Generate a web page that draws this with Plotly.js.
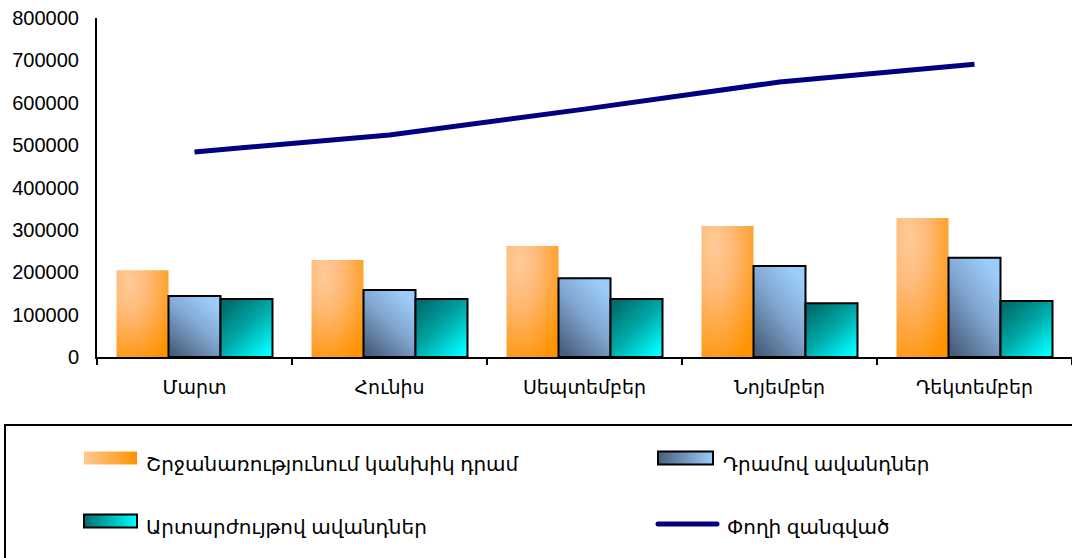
<!DOCTYPE html>
<html><head><meta charset="utf-8">
<script src="https://cdn.plot.ly/plotly-3.0.1.min.js"></script>
<style>html,body{margin:0;padding:0;background:#fff}#chart{width:1072px;height:558px}</style>
</head><body><div id="chart"></div>
<script>
const months = ["Մարտ","Հունիս","Սեպտեմբեր","Նոյեմբեր","Դեկտեմբեր"];
const cashValues = [205000, 229000, 262000, 309000, 328000];
const dramDeposits = [144000, 158000, 186000, 215000, 234000];
const fxDeposits = [137000, 137000, 137000, 127000, 132000];
const moneySupply = [484000, 524000, 585000, 649000, 691000];
const seriesNames = ["Շրջանառությունում կանխիկ դրամ","Դրամով ավանդներ","Արտարժույթով ավանդներ","Փողի զանգված"];
const yTicks = [0,100000,200000,300000,400000,500000,600000,700000,800000];

const FONT = "Liberation Sans, Arial, DejaVu Sans, sans-serif";
const data = [
  {type:'bar', x:months, y:cashValues, name:seriesNames[0], marker:{color:'#FFA64D', line:{width:0}}, legend:'legend', showlegend:true},
  {type:'bar', x:months, y:dramDeposits, name:seriesNames[1], marker:{color:'#7397C0', line:{width:2,color:'#000'}}, legend:'legend2', showlegend:true},
  {type:'bar', x:months, y:fxDeposits, name:seriesNames[2], marker:{color:'#00AAAA', line:{width:2,color:'#000'}}, legend:'legend3', showlegend:true},
  {type:'scatter', mode:'lines', x:months, y:moneySupply, name:seriesNames[3], line:{color:'#000080', width:5}, legend:'legend4', showlegend:true}
];
const lf = {family:FONT, size:20, color:'#000'};
function lg(x,y){return {x:x,y:y,xanchor:'left',yanchor:'middle',font:lf,bgcolor:'rgba(0,0,0,0)',borderwidth:0,visible:true};}
const py = p => (357-p)/339, px = p => (p-97)/975;
const layout = {
  width:1072, height:558,
  margin:{l:97, r:0, t:18, b:201},
  paper_bgcolor:'#fff', plot_bgcolor:'#fff',
  showlegend:true,
  barmode:'group', bargap:0.2, bargroupgap:0,
  font:{family:FONT, size:20, color:'#000'},
  xaxis:{type:'category', range:[-0.5,4.5], showline:true, linecolor:'#000', linewidth:2,
    ticks:'outside', tickson:'boundaries', ticklen:6, tickwidth:2, tickcolor:'#000',
    ticklabelstandoff:12, showgrid:false, zeroline:false, tickfont:{size:19}},
  yaxis:{range:[0,800000], tickvals:yTicks, ticktext:yTicks.map(String), showline:true, linecolor:'#000', linewidth:2,
    ticks:'', showgrid:false, zeroline:false, ticklabelstandoff:12, tickfont:{size:20}},
  legend:lg(px(106), py(463)),
  legend2:lg(px(683), py(463)),
  legend3:lg(px(106), py(526)),
  legend4:lg(px(687), py(526)),
  shapes:[{type:'rect', xref:'paper', yref:'paper', x0:px(5), x1:px(1085), y0:py(425), y1:py(575), line:{color:'#000', width:2}, fillcolor:'rgba(0,0,0,0)'}]
};
function decorate(gd){
  const ns='http://www.w3.org/2000/svg';
  const svg=gd.querySelector('svg.main-svg');
  let defs=svg.querySelector('defs'); if(!defs){defs=document.createElementNS(ns,'defs');svg.insertBefore(defs,svg.firstChild);}
  function grad(id,type,attrs,stops){
    if(document.getElementById(id)) return;
    const g=document.createElementNS(ns,type); g.setAttribute('id',id);
    for(const k in attrs) g.setAttribute(k,attrs[k]);
    stops.forEach(s=>{const st=document.createElementNS(ns,'stop');st.setAttribute('offset',s[0]);st.setAttribute('stop-color',s[1]);g.appendChild(st);});
    defs.appendChild(g);
  }
  grad('g0','radialGradient',{cx:'0.25',cy:'0.15',r:'1.0',fx:'0.25',fy:'0.15'},[[0,'#FFCB98'],[0.35,'#FFBA78'],[1,'#FF9200']]);
  grad('g1','linearGradient',{x1:'0.75',y1:'0.05',x2:'0.1',y2:'0.95'},[[0,'#9CCCFA'],[0.45,'#7FA5CE'],[1,'#4A5E7C']]);
  grad('g2','linearGradient',{x1:'0.15',y1:'0.05',x2:'0.9',y2:'0.95'},[[0,'#006E6E'],[0.5,'#00ABAB'],[1,'#00FFFF']]);
  grad('l0','linearGradient',{x1:'0',y1:'0',x2:'1',y2:'0'},[[0,'#FFC994'],[1,'#FF9200']]);
  grad('l1','linearGradient',{x1:'0',y1:'0',x2:'1',y2:'0'},[[0,'#4A5E7C'],[1,'#9CCCFA']]);
  grad('l2','linearGradient',{x1:'0',y1:'0',x2:'1',y2:'0'},[[0,'#006E6E'],[1,'#00FFFF']]);
  gd.querySelectorAll('.barlayer .trace').forEach((t,i)=>{
    t.querySelectorAll('path').forEach(p=>{p.style.fill='url(#g'+i+')';});
  });
  const symD=['M11,1.5H-42V-11.5H11Z','M10,1.5H-45V-11.5H10Z','M11,1.5H-42V-11.5H11Z'];
  const legs=['legend','legend2','legend3','legend4'];
  legs.forEach((cls,i)=>{
    const L=gd.querySelector('g.'+cls); if(!L) return;
    L.querySelectorAll('[clip-path]').forEach(e=>e.removeAttribute('clip-path'));
    L.removeAttribute('clip-path');
    if(i<3){
      L.querySelectorAll('.legendpoints path').forEach(p=>{p.setAttribute('d',symD[i]);p.style.fill='url(#l'+i+')';});
    } else {
      L.querySelectorAll('.legendlines path').forEach(p=>{p.setAttribute('d','M-29,-2h59');p.style.strokeLinecap='round';});
    }
  });
}
Plotly.newPlot('chart', data, layout, {staticPlot:true}).then(gd=>{
  decorate(gd);
  setTimeout(()=>decorate(gd), 100);
  setTimeout(()=>decorate(gd), 500);
});
</script></body></html>
